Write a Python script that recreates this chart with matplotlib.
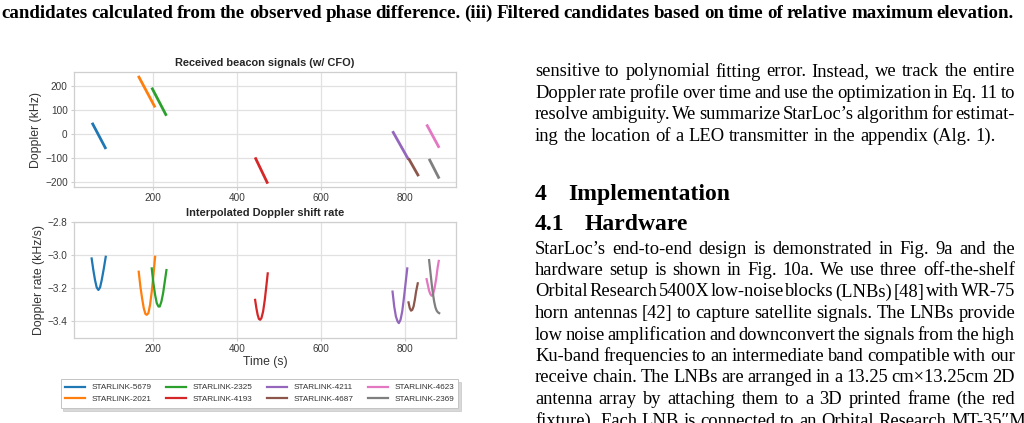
import matplotlib
matplotlib.use('Agg')
import matplotlib.pyplot as plt

# satellites (legend order)
names = ['STARLINK-5679', 'STARLINK-2021', 'STARLINK-2325', 'STARLINK-4193',
         'STARLINK-4211', 'STARLINK-4687', 'STARLINK-4623', 'STARLINK-2369']

# received beacon signals: start/end time (s) and Doppler (kHz)
beacon_t = [[55, 88], [165, 205], [197, 232], [443, 473],
            [770, 808], [808, 832], [851, 881], [857, 881]]
beacon_khz = [[47, -62], [242, 111], [193, 76], [-97, -206],
              [12, -106], [-101, -175], [40, -57], [-103, -185]]

# interpolated Doppler shift rate (kHz/s)
rate_t = [
    [54, 58, 62, 66, 70, 74, 78, 83, 87.5],
    [166, 170, 174, 178, 182, 185, 189, 193, 197, 201, 205],
    [197, 201, 205, 209, 213, 216, 220, 224, 228, 232],
    [443, 446, 449, 452, 455, 458, 462, 466, 470, 473],
    [770, 774, 778, 782, 785, 789, 793, 797, 801, 805],
    [808, 811, 814, 817, 820, 823, 826, 830],
    [851, 854, 857, 860, 863, 866, 870, 874, 877, 880],
    [857, 860, 863, 866, 869, 872, 875, 878, 881],
]
rate_v = [
    [-3.02, -3.09, -3.15, -3.195, -3.21, -3.195, -3.15, -3.08, -3.01],
    [-3.10, -3.19, -3.26, -3.32, -3.355, -3.36, -3.35, -3.30, -3.22, -3.12, -3.01],
    [-3.08, -3.17, -3.24, -3.29, -3.31, -3.31, -3.28, -3.23, -3.16, -3.09],
    [-3.27, -3.32, -3.36, -3.385, -3.39, -3.38, -3.34, -3.27, -3.18, -3.11],
    [-3.22, -3.31, -3.37, -3.40, -3.41, -3.39, -3.34, -3.26, -3.17, -3.08],
    [-3.285, -3.32, -3.335, -3.33, -3.31, -3.27, -3.22, -3.17],
    [-3.145, -3.18, -3.215, -3.235, -3.245, -3.24, -3.20, -3.14, -3.08, -3.035],
    [-3.03, -3.10, -3.17, -3.23, -3.28, -3.315, -3.335, -3.345, -3.35],
]

colors = ['#1f77b4', '#ff7f0e', '#2ca02c', '#d62728',
          '#9467bd', '#8c564b', '#e377c2', '#7f7f7f']

caption = ('candidates calculated from the observed phase difference. (iii) '
           'Filtered candidates based on time of relative maximum elevation.')

para1 = [
    'sensitive to polynomial fitting error. Instead, we track the entire',
    'Doppler rate profile over time and use the optimization in Eq. 11 to',
    'resolve ambiguity. We summarize StarLoc\u2019s algorithm for estimat-',
    'ing the location of a LEO transmitter in the appendix (Alg. 1).',
]
para2 = [
    'StarLoc\u2019s end-to-end design is demonstrated in Fig. 9a and the',
    'hardware setup is shown in Fig. 10a. We use three off-the-shelf',
    'Orbital Research 5400X low-noise blocks (LNBs) [48] with WR-75',
    'horn antennas [42] to capture satellite signals. The LNBs provide',
    'low noise amplification and downconvert the signals from the high',
    'Ku-band frequencies to an intermediate band compatible with our',
    'receive chain. The LNBs are arranged in a 13.25 cm\u00d713.25cm 2D',
    'antenna array by attaching them to a 3D printed frame (the red',
    'fixture). Each LNB is connected to an Orbital Research MT-35\u2033M-',
]

W, H = 1024, 423


def style_axes(ax):
    ax.set_facecolor('white')
    for s in ax.spines.values():
        s.set_color('#cfcfcf')
        s.set_linewidth(0.9)
    ax.grid(True, color='#e1e1e1', linewidth=0.9)
    ax.set_axisbelow(True)
    ax.tick_params(labelsize=7.2, colors='#cfcfcf', labelcolor='#3a3a3a',
                   length=2.5, width=0.8, pad=2)


def put_line(fig, renderer, line, y, x0, x1, justify, **kw):
    words = line.split(' ')
    texts = [fig.text(0, 1 - y / H, w, ha='left', va='center_baseline', **kw)
             for w in words]
    widths = [t.get_window_extent(renderer).width for t in texts]
    if justify and len(words) > 1:
        gap = (x1 - x0 - sum(widths)) / (len(words) - 1)
    else:
        gap = kw.get('fontsize', 10) * 0.25 * fig.dpi / 72
    x = x0
    for t, w in zip(texts, widths):
        t.set_x(x / W)
        x += w + gap


def main():
    plt.rcParams['font.family'] = ['Liberation Sans', 'DejaVu Sans']
    plt.rcParams['axes.unicode_minus'] = True

    fig = plt.figure(figsize=(W / 100, H / 100), dpi=100)
    fig.patch.set_facecolor('white')

    ax1 = fig.add_axes([74 / W, 1 - 187 / H, 382 / W, 115 / H])
    ax2 = fig.add_axes([74 / W, 1 - 338 / H, 382 / W, 116 / H])

    for i in range(len(names)):
        ax1.plot(beacon_t[i], beacon_khz[i], color=colors[i], lw=2.0,
                 solid_capstyle='butt')
        ax2.plot(rate_t[i], rate_v[i], color=colors[i], lw=1.6,
                 label=names[i])

    for ax in (ax1, ax2):
        style_axes(ax)
        ax.set_xlim(12, 921)
        ax.set_xticks([200, 400, 600, 800])

    ax1.set_ylim(-220, 258)
    ax1.set_yticks([-200, -100, 0, 100, 200])
    ax2.set_ylim(-3.5, -2.8)
    ax2.set_yticks([-3.4, -3.2, -3.0, -2.8])
    ax2.set_yticklabels(['\u22123.4', '\u22123.2', '\u22123.0', '\u22122.8'])

    ax1.set_title('Received beacon signals (w/ CFO)', fontsize=7.9,
                  fontweight='bold', color='#262626', pad=4)
    ax2.set_title('Interpolated Doppler shift rate', fontsize=7.9,
                  fontweight='bold', color='#262626', pad=4)
    ax1.set_ylabel('Doppler (kHz)', fontsize=8.8, color='#333333', labelpad=2)
    ax2.set_ylabel('Doppler rate (kHz/s)', fontsize=8.8, color='#333333',
                   labelpad=2)
    ax2.set_xlabel('Time (s)', fontsize=8.8, color='#333333', labelpad=1)

    leg = fig.legend(loc='center', bbox_to_anchor=(259.5 / W, 1 - 393.5 / H),
                     ncol=4, fontsize=5.9, frameon=True, fancybox=False,
                     shadow={'color': '0.75', 'alpha': 0.6},
                     handlelength=2.4, handletextpad=0.8, columnspacing=1.8,
                     labelspacing=0.5, borderpad=0.55)
    leg.get_frame().set_edgecolor('#c4c4c4')
    leg.get_frame().set_linewidth(0.7)
    for t in leg.get_texts():
        t.set_color('#333333')

    # page text around the figure
    renderer = fig.canvas.get_renderer()
    serif = ['Liberation Serif', 'DejaVu Serif']
    put_line(fig, renderer, caption, 11, 1, 1014, True, fontsize=13.6,
             fontweight='bold', family=serif, color='black')

    x0, x1 = 535, 1015
    for i, line in enumerate(para1):
        put_line(fig, renderer, line, 70 + 21.4 * i, x0, x1,
                 i < len(para1) - 1, fontsize=13.3, family=serif,
                 color='black')
    for i, line in enumerate(para2):
        put_line(fig, renderer, line, 247 + 21.5 * i, x0, x1,
                 i < len(para2) - 1, fontsize=13.3, family=serif,
                 color='black')

    hkw = dict(fontsize=17, fontweight='bold', family=serif,
               va='center_baseline', color='black')
    fig.text(535 / W, 1 - 192 / H, '4', **hkw)
    fig.text(568 / W, 1 - 192 / H, 'Implementation', **hkw)
    fig.text(535 / W, 1 - 222 / H, '4.1', **hkw)
    fig.text(585 / W, 1 - 222 / H, 'Hardware', **hkw)

    fig.savefig('out.png', dpi=100, facecolor='white')


if __name__ == '__main__':
    main()
